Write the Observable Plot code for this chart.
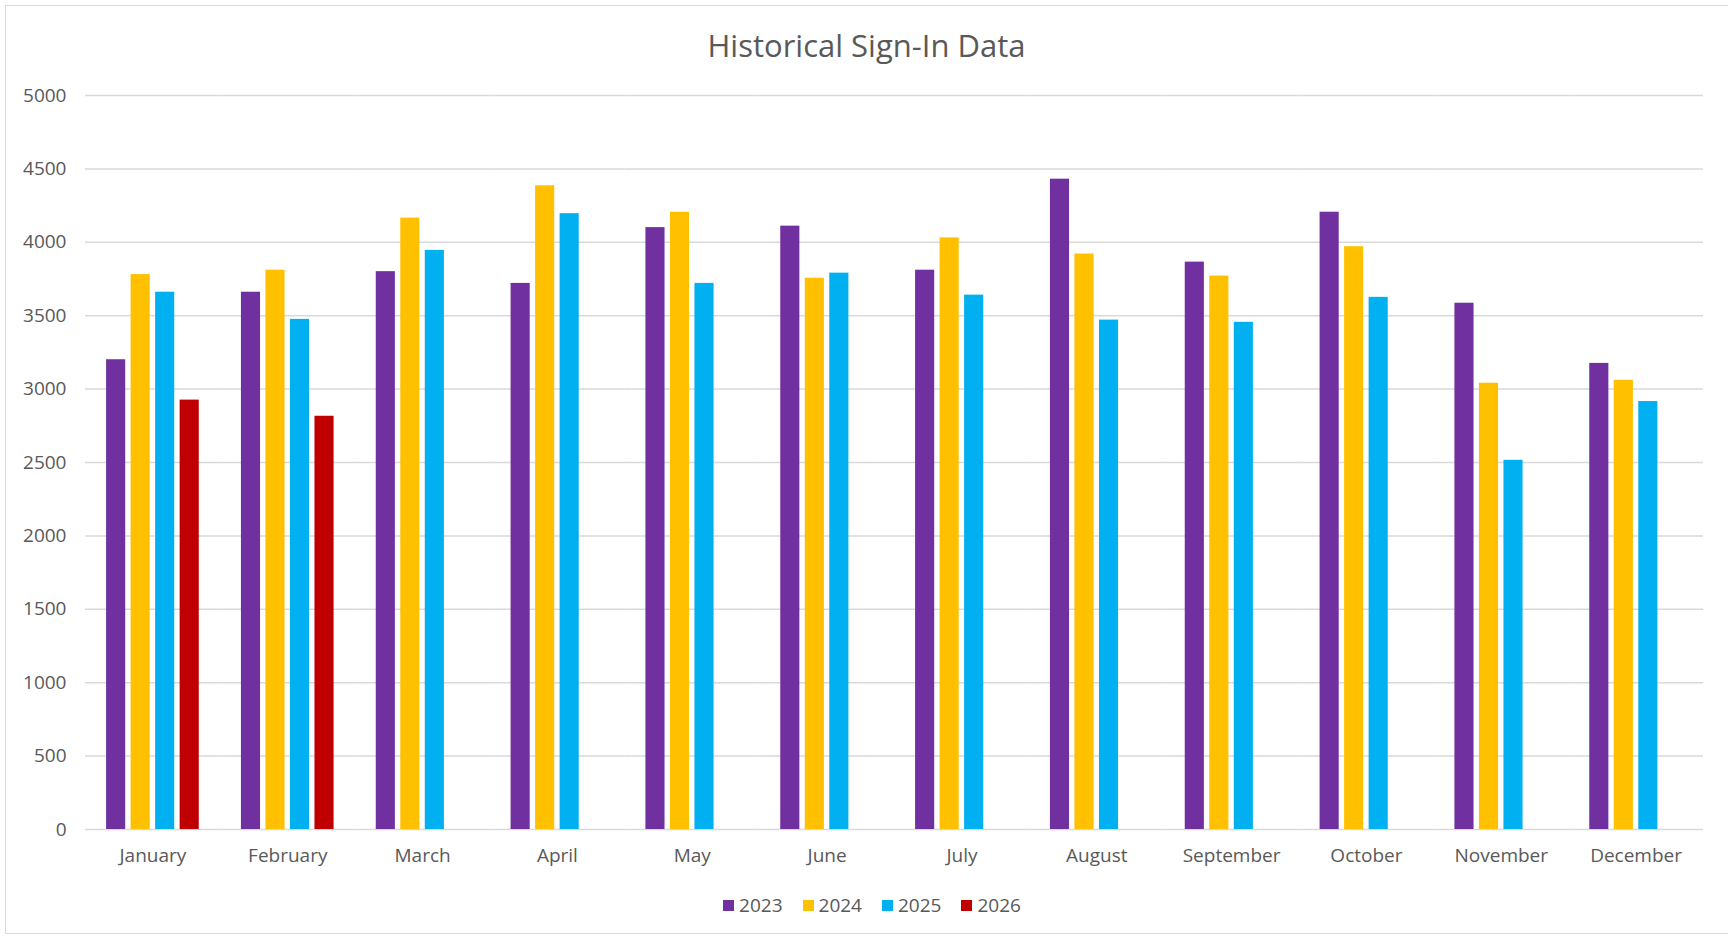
<!DOCTYPE html>
<html>
<head>
<meta charset="utf-8">
<script src="https://cdn.jsdelivr.net/npm/d3@7"></script>
<script src="https://cdn.jsdelivr.net/npm/@observablehq/plot@0.6"></script>
<style>
  html, body { margin: 0; padding: 0; background: #fff; overflow: hidden; width: 1728px; height: 937px; }
  body { position: relative; font-family: "Open Sans", sans-serif; color: #595959; }
  #frame { position: absolute; left: 5px; top: 5px; width: 1740px; height: 929px; border: 1.5px solid #d9d9d9; box-sizing: border-box; }
  #title { position: absolute; left: 5px; width: 1723px; top: 25px; text-align: center; font-size: 31px; line-height: 40px; color: #595959; }
  #chart { position: absolute; left: 0; top: 70px; }
  #legend { position: absolute; left: 0; width: 1744px; top: 893px; display: flex; justify-content: center; gap: 20px; font-size: 19px; line-height: 24px; }
  .item { display: flex; align-items: center; gap: 5px; }
  .sw { width: 11px; height: 11px; display: inline-block; }
</style>
</head>
<body>
<div id="frame"></div>
<div id="title">Historical Sign-In Data</div>
<div id="chart"></div>
<div id="legend"></div>
<script>
const months = ["January","February","March","April","May","June","July","August","September","October","November","December"];
const years = ["2023","2024","2025","2026"];
const colors = ["#7030A0","#FFC000","#00B0F0","#C00000"];
const v2023 = [3200, 3660, 3800, 3720, 4100, 4110, 3810, 4430, 3865, 4205, 3585, 3175];
const v2024 = [3780, 3810, 4165, 4385, 4205, 3755, 4030, 3920, 3770, 3970, 3040, 3060];
const v2025 = [3660, 3475, 3945, 4195, 3720, 3790, 3640, 3470, 3455, 3625, 2515, 2915];
const v2026 = [2925, 2815];
const yTicks = [0, 500, 1000, 1500, 2000, 2500, 3000, 3500, 4000, 4500, 5000];

const series = [v2023, v2024, v2025, v2026];
const data = [];
series.forEach((vals, i) => {
  vals.forEach((v, j) => data.push({month: months[j], year: years[i], value: v}));
});

const chart = Plot.plot({
  width: 1728,
  height: 805,
  marginLeft: 85,
  marginRight: 25,
  marginTop: 25,
  marginBottom: 46,
  style: {fontFamily: "Open Sans, sans-serif", fontSize: "19px", color: "#595959", background: "transparent"},
  fx: {domain: months, padding: 0, round: false, label: null, axis: "bottom", tickSize: 0, tickPadding: 19},
  x: {domain: years, paddingInner: 0.22, paddingOuter: 0.86, round: false, axis: null},
  y: {domain: [0, 5000], ticks: yTicks, tickFormat: "d", label: null, tickSize: 0, tickPadding: 19},
  color: {domain: years, range: colors},
  marks: [
    Plot.gridY(yTicks, {stroke: "#d9d9d9", strokeOpacity: 1, strokeWidth: 1.5}),
    Plot.barY(data, {fx: "month", x: "year", y: "value", fill: "year"})
  ]
});
document.getElementById("chart").appendChild(chart);

const legend = document.getElementById("legend");
years.forEach((y, i) => {
  const it = document.createElement("div");
  it.className = "item";
  const sw = document.createElement("span");
  sw.className = "sw";
  sw.style.background = colors[i];
  const t = document.createElement("span");
  t.textContent = y;
  it.appendChild(sw); it.appendChild(t);
  legend.appendChild(it);
});
</script>
</body>
</html>
